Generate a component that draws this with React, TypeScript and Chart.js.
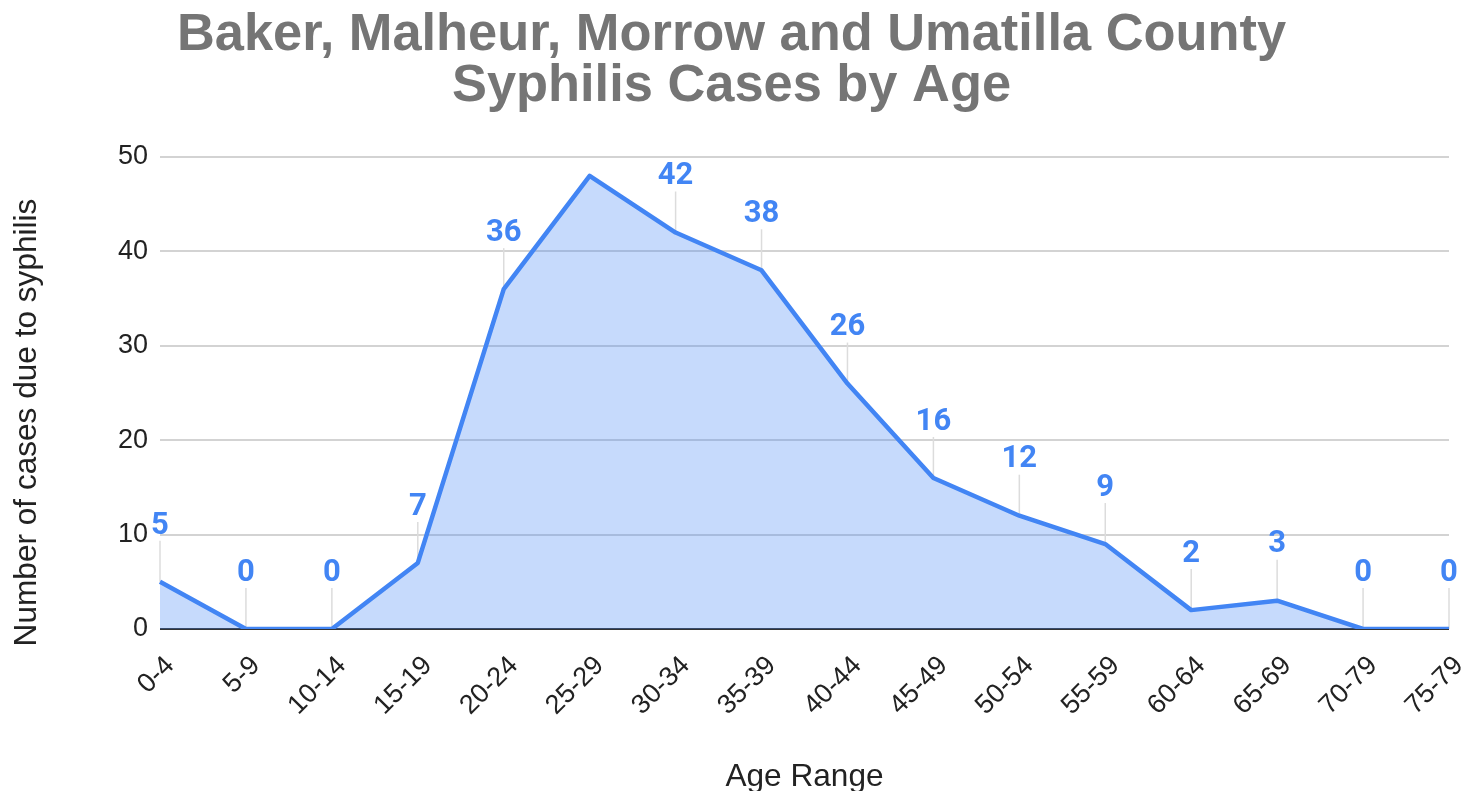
import React, { useEffect, useRef } from "react";
import { Chart, registerables } from "chart.js";

Chart.register(...registerables);

const titleLines = ["Baker, Malheur, Morrow and Umatilla County", "Syphilis Cases by Age"];
const ageRanges = ["0-4", "5-9", "10-14", "15-19", "20-24", "25-29", "30-34", "35-39", "40-44", "45-49", "50-54", "55-59", "60-64", "65-69", "70-79", "75-79"];
const cases = [5, 0, 0, 7, 36, 48, 42, 38, 26, 16, 12, 9, 2, 3, 0, 0];
const showLabel = [true, true, true, true, true, false, true, true, true, true, true, true, true, true, true, true];
const yTicks = [0, 10, 20, 30, 40, 50];
const xTitle = "Age Range";
const yTitle = "Number of cases due to syphilis";

const BLUE = "#4285F4";
const FONT = "'Liberation Sans', Arial, sans-serif";

const decorPlugin = {
  id: "decor",
  beforeDatasetsDraw(chart: any) {
    const ctx = chart.ctx;
    const meta = chart.getDatasetMeta(0);
    ctx.save();
    ctx.strokeStyle = "#dcdcdc";
    ctx.lineWidth = 1.5;
    meta.data.forEach((pt: any, i: number) => {
      if (!showLabel[i]) return;
      ctx.beginPath();
      ctx.moveTo(pt.x, pt.y);
      ctx.lineTo(pt.x, pt.y - 41);
      ctx.stroke();
    });
    ctx.restore();
  },
  afterDatasetsDraw(chart: any) {
    const ctx = chart.ctx;
    const meta = chart.getDatasetMeta(0);
    ctx.save();
    ctx.fillStyle = BLUE;
    ctx.font = "bold 31px Roboto";
    ctx.textAlign = "center";
    ctx.textBaseline = "middle";
    meta.data.forEach((pt: any, i: number) => {
      if (!showLabel[i]) return;
      ctx.fillText(String(cases[i]), pt.x, pt.y - 56);
    });
    ctx.restore();
  },
  afterDraw(chart: any) {
    const ctx = chart.ctx;
    const area = chart.chartArea;
    ctx.save();
    ctx.fillStyle = "#757575";
    ctx.font = "bold 52.4px " + FONT;
    ctx.textAlign = "center";
    ctx.textBaseline = "alphabetic";
    ctx.fillText(titleLines[0], 731.5, 50);
    ctx.fillText(titleLines[1], 731.5, 101);

    ctx.fillStyle = "#222222";
    ctx.font = "31.6px " + FONT;
    ctx.fillText(xTitle, (area.left + area.right) / 2, 786);
    ctx.translate(36, 422.5);
    ctx.rotate(-Math.PI / 2);
    ctx.fillText(yTitle, 0, 0);
    ctx.restore();
  },
};

export default function App() {
  const ref = useRef<HTMLCanvasElement>(null);
  useEffect(() => {
    document.body.style.margin = "0";
    const canvas = ref.current!;
    const chart = new Chart(canvas, {
      type: "line",
      data: {
        labels: ageRanges,
        datasets: [
          {
            data: cases,
            borderColor: BLUE,
            backgroundColor: "rgba(66,133,244,0.3)",
            borderWidth: 4.5,
            borderJoinStyle: "round",
            fill: "origin",
            pointRadius: 0,
            tension: 0,
          },
        ],
      },
      options: {
        responsive: false,
        animation: false,
        layout: { padding: { top: 157, right: 17, bottom: 0, left: 0 } },
        plugins: { legend: { display: false }, tooltip: { enabled: false }, title: { display: false } },
        scales: {
          x: {
            offset: false,
            grid: { display: false, drawTicks: false },
            border: { display: false },
            ticks: {
              autoSkip: false,
              maxRotation: 45,
              minRotation: 45,
              padding: 21,
              labelOffset: 10,
              color: "#222222",
              font: { family: FONT, size: 27 },
            },
            afterFit(scale: any) {
              scale.height = 162;
              scale.paddingLeft = 0;
              scale.paddingRight = 0;
            },
          },
          y: {
            min: 0,
            max: 50,
            afterBuildTicks(scale: any) {
              scale.ticks = yTicks.map((v) => ({ value: v }));
            },
            grid: {
              drawTicks: false,
              lineWidth: 2,
              color: (c: any) => (c.tick && c.tick.value === 0 ? "#333333" : "#d3d3d3"),
            },
            border: { display: false },
            ticks: {
              padding: 12,
              color: "#222222",
              font: { family: FONT, size: 27 },
            },
            afterFit(scale: any) {
              scale.width = 160;
              scale.paddingTop = 0;
              scale.paddingBottom = 0;
            },
          },
        },
      },
      plugins: [decorPlugin],
    });
    return () => chart.destroy();
  }, []);
  return <canvas ref={ref} width={1466} height={791} style={{ display: "block", width: 1466, height: 791 }} />;
}
